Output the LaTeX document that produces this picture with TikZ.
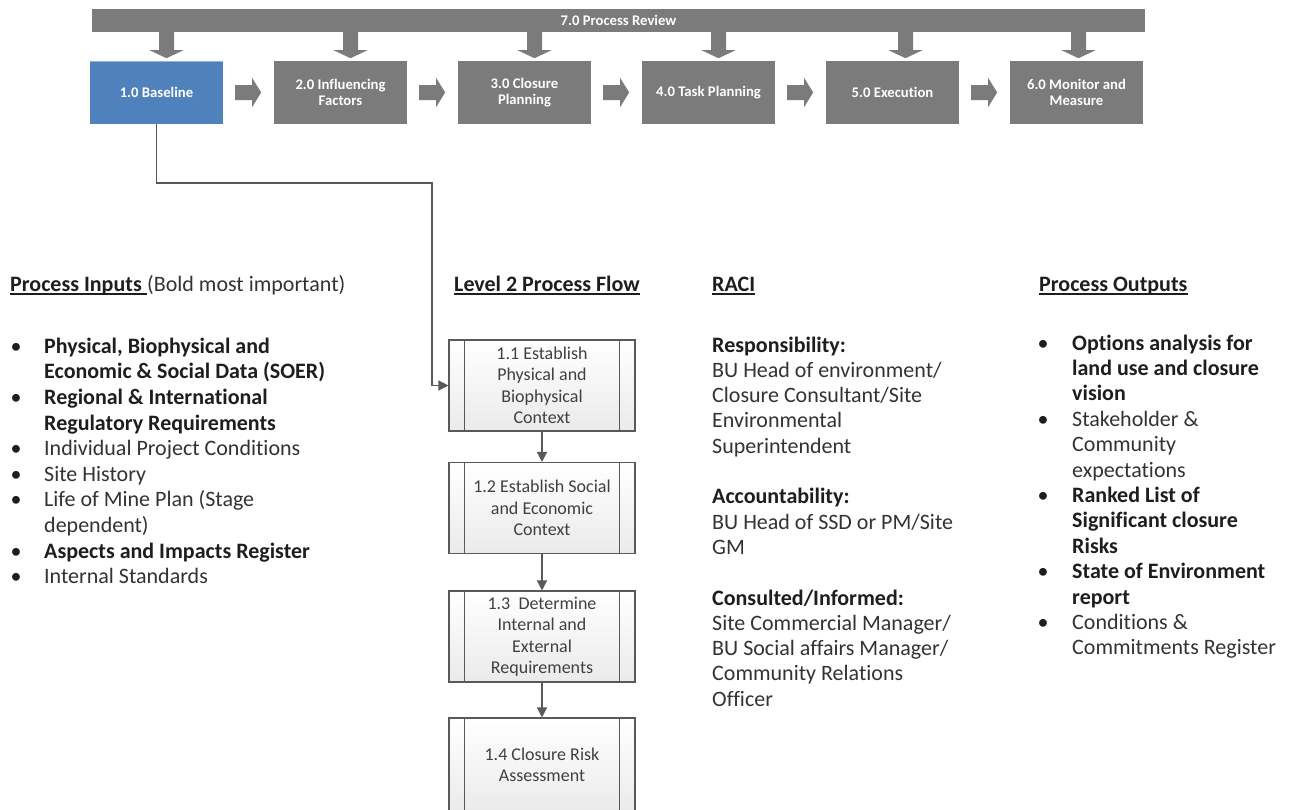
\documentclass[tikz,border=0pt]{standalone}
\usepackage{fontspec}
\setmainfont{Carlito}[Ligatures=NoCommon]
\usetikzlibrary{arrows.meta,calc}
\definecolor{stageGray}{HTML}{7B7B7B}
\definecolor{stageBlue}{HTML}{4F81BD}
\definecolor{lineGray}{HTML}{595959}
\definecolor{inkDark}{HTML}{1E1E1E}
\definecolor{inkSoft}{HTML}{333333}
\definecolor{flowText}{HTML}{404040}

% block arrow from the review bar down onto a stage box (#2 = shaft left offset from box centre)
\newcommand\downblock[2]{%
  \fill[stageGray] (#1.north |- review.south) ++(#2,0) -- ++(15,0) -- ++(0,18)
    -- ++(9.5,0) -- ++(-17,8) -- ++(-17,-8) -- ++(9.5,0) -- cycle;}
% block arrow between two neighbouring stage boxes
\newcommand\rightblock[1]{%
  \fill[stageGray] ([xshift=12pt,yshift=7.5pt]#1.east) -- ++(17,0) -- ++(0,-7)
    -- ++(9,14.5) -- ++(-9,14.5) -- ++(0,-7) -- ++(-17,0) -- cycle;}

\begin{document}
\begin{tikzpicture}[x=1pt,y=-1pt,
  stage/.style={fill=stageGray, minimum width=133pt, minimum height=63pt,
    inner sep=0pt, align=center, text=white,
    font=\fontsize{14.7}{15.5}\selectfont\bfseries},
  reviewbar/.style={fill=stageGray, minimum width=1053pt, minimum height=23pt,
    inner sep=0pt, text=white, font=\fontsize{14.7}{15.5}\selectfont\bfseries},
  flowbox/.style={draw=lineGray, line width=1.1pt, top color=white, bottom color=gray!16,
    minimum width=186pt, minimum height=91pt, inner sep=0pt, align=center,
    text=flowText, font=\fontsize{18}{21.5}\selectfont},
  flowedge/.style={draw=lineGray, line width=1.1pt},
  conn/.style={draw=lineGray, line width=1.3pt, -{Triangle[length=10pt,width=10pt]}},
  heading/.style={anchor=base west, inner sep=0pt, text=inkDark,
    font=\fontsize{22}{26}\selectfont\bfseries},
  uline/.style={draw=inkDark, line width=1.5pt},
  item/.style={anchor=base west, inner sep=0pt, text=inkSoft,
    font=\fontsize{22}{26}\selectfont},
  itemb/.style={item, text=inkDark, font=\fontsize{22}{26}\selectfont\bfseries},
  bullet/.style={anchor=base, inner sep=0pt, text=inkDark,
    font=\fontsize{22}{26}\selectfont}
]
\fill[white] (0,0) rectangle (1293,809);
\useasboundingbox (0,0) rectangle (1293,809);

% ---- level 1 process chain ----
\node[reviewbar] (review) at (618.5,20.5) {7.0 Process Review};
\node[stage, fill=stageBlue] (b1) at (156.5,92.5) {1.0 Baseline};
\node[stage] (b2) at (340.5,92.5) {2.0 Influencing\\Factors};
\node[stage] (b3) at (524.5,92.5) {3.0 Closure\\Planning};
\node[stage] (b4) at (708.5,92.5) {4.0 Task Planning};
\node[stage] (b5) at (892.5,92.5) {5.0 Execution};
\node[stage] (b6) at (1076.5,92.5) {6.0 Monitor and\\Measure};
\draw[stageBlue!60!white, line width=1pt] ([yshift=-1pt]b1.north west) -- ([yshift=-1pt]b1.north east);

\downblock{b1}{2.5}
\downblock{b2}{2.5}
\downblock{b3}{2.5}
\downblock{b4}{2.5}
\downblock{b5}{5.5}
\downblock{b6}{-5.5}

\rightblock{b1}
\rightblock{b2}
\rightblock{b3}
\rightblock{b4}
\rightblock{b5}

% ---- level 2 process flow ----
\node[flowbox] (p1) at (542,385.5) {1.1 Establish\\Physical and\\Biophysical\\Context};
\node[flowbox] (p2) at (542,508) {1.2 Establish Social\\and Economic\\Context};
\node[flowbox] (p3) at (542,636.5) {1.3~~Determine\\Internal and\\External\\Requirements};
\node[flowbox, minimum height=94pt] (p4) at (542,765) {1.4 Closure Risk\\Assessment};
\foreach \p in {p1,p2,p3,p4}{
  \draw[flowedge] ([xshift=16pt]\p.north west) -- ([xshift=16pt]\p.south west);
  \draw[flowedge] ([xshift=-16pt]\p.north east) -- ([xshift=-16pt]\p.south east);
}
\coordinate (elbow) at (432,183);
\draw[conn] (b1.south) |- (elbow) |- (p1.west);
\draw[conn] (p1) -- (p2);
\draw[conn] (p2) -- (p3);
\draw[conn] (p3) -- (p4);

% ---- headings ----
\node[heading] (hin) at (10,291) {Process Inputs\ \null};
\node[item, anchor=base west] (hinnote) at (hin.base east) {(Bold most important)};
\node[heading] (hflow) at (454,291) {Level 2 Process Flow};
\node[heading] (hraci) at (712,291) {RACI};
\node[heading] (hout) at (1039,291) {Process Outputs};
\foreach \h in {hin,hflow,hraci,hout}
  \draw[uline] ([yshift=-3pt]\h.base west) -- ([yshift=-3pt]\h.base east);

% ---- process inputs ----
\node[bullet] (ib1) at (16,353.3) {•};
\node[itemb] (i1a) at (44,353.3) {Physical, Biophysical and};
\node[itemb] (i1b) at (44,378.9) {Economic \& Social Data (SOER)};
\node[bullet] (ib2) at (16,404.5) {•};
\node[itemb] (i2a) at (44,404.5) {Regional \& International};
\node[itemb] (i2b) at (44,430.1) {Regulatory Requirements};
\node[bullet] (ib3) at (16,455.7) {•};
\node[item] (i3) at (44,455.7) {Individual Project Conditions};
\node[bullet] (ib4) at (16,481.3) {•};
\node[item] (i4) at (44,481.3) {Site History};
\node[bullet] (ib5) at (16,506.9) {•};
\node[item] (i5a) at (44,506.9) {Life of Mine Plan (Stage};
\node[item] (i5b) at (44,532.5) {dependent)};
\node[bullet] (ib6) at (16,558.1) {•};
\node[itemb] (i6) at (44,558.1) {Aspects and Impacts Register};
\node[bullet] (ib7) at (16,583.7) {•};
\node[item] (i7) at (44,583.7) {Internal Standards};

% ---- RACI ----
\node[itemb] (r1) at (712,352) {Responsibility:};
\node[item] (r2) at (712,377.3) {BU Head of environment/};
\node[item] (r3) at (712,402.6) {Closure Consultant/Site};
\node[item] (r4) at (712,427.9) {Environmental};
\node[item] (r5) at (712,453.2) {Superintendent};
\node[itemb] (a1) at (712,503.8) {Accountability:};
\node[item] (a2) at (712,529.1) {BU Head of SSD or PM/Site};
\node[item] (a3) at (712,554.4) {GM};
\node[itemb] (c1) at (712,605) {Consulted/Informed:};
\node[item] (c2) at (712,630.3) {Site Commercial Manager/};
\node[item] (c3) at (712,655.6) {BU Social affairs Manager/};
\node[item] (c4) at (712,680.9) {Community Relations};
\node[item] (c5) at (712,706.2) {Officer};

% ---- process outputs ----
\node[bullet] (ob1) at (1043,350) {•};
\node[itemb] (o1a) at (1072,350) {Options analysis for};
\node[itemb] (o1b) at (1072,375.4) {land use and closure};
\node[itemb] (o1c) at (1072,400.8) {vision};
\node[bullet] (ob2) at (1043,426.2) {•};
\node[item] (o2a) at (1072,426.2) {Stakeholder \&};
\node[item] (o2b) at (1072,451.6) {Community};
\node[item] (o2c) at (1072,477) {expectations};
\node[bullet] (ob3) at (1043,502.4) {•};
\node[itemb] (o3a) at (1072,502.4) {Ranked List of};
\node[itemb] (o3b) at (1072,527.8) {Significant closure};
\node[itemb] (o3c) at (1072,553.2) {Risks};
\node[bullet] (ob4) at (1043,578.6) {•};
\node[itemb] (o4a) at (1072,578.6) {State of Environment};
\node[itemb] (o4b) at (1072,604) {report};
\node[bullet] (ob5) at (1043,629.4) {•};
\node[item] (o5a) at (1072,629.4) {Conditions \&};
\node[item] (o5b) at (1072,654.8) {Commitments Register};
\end{tikzpicture}
\end{document}
